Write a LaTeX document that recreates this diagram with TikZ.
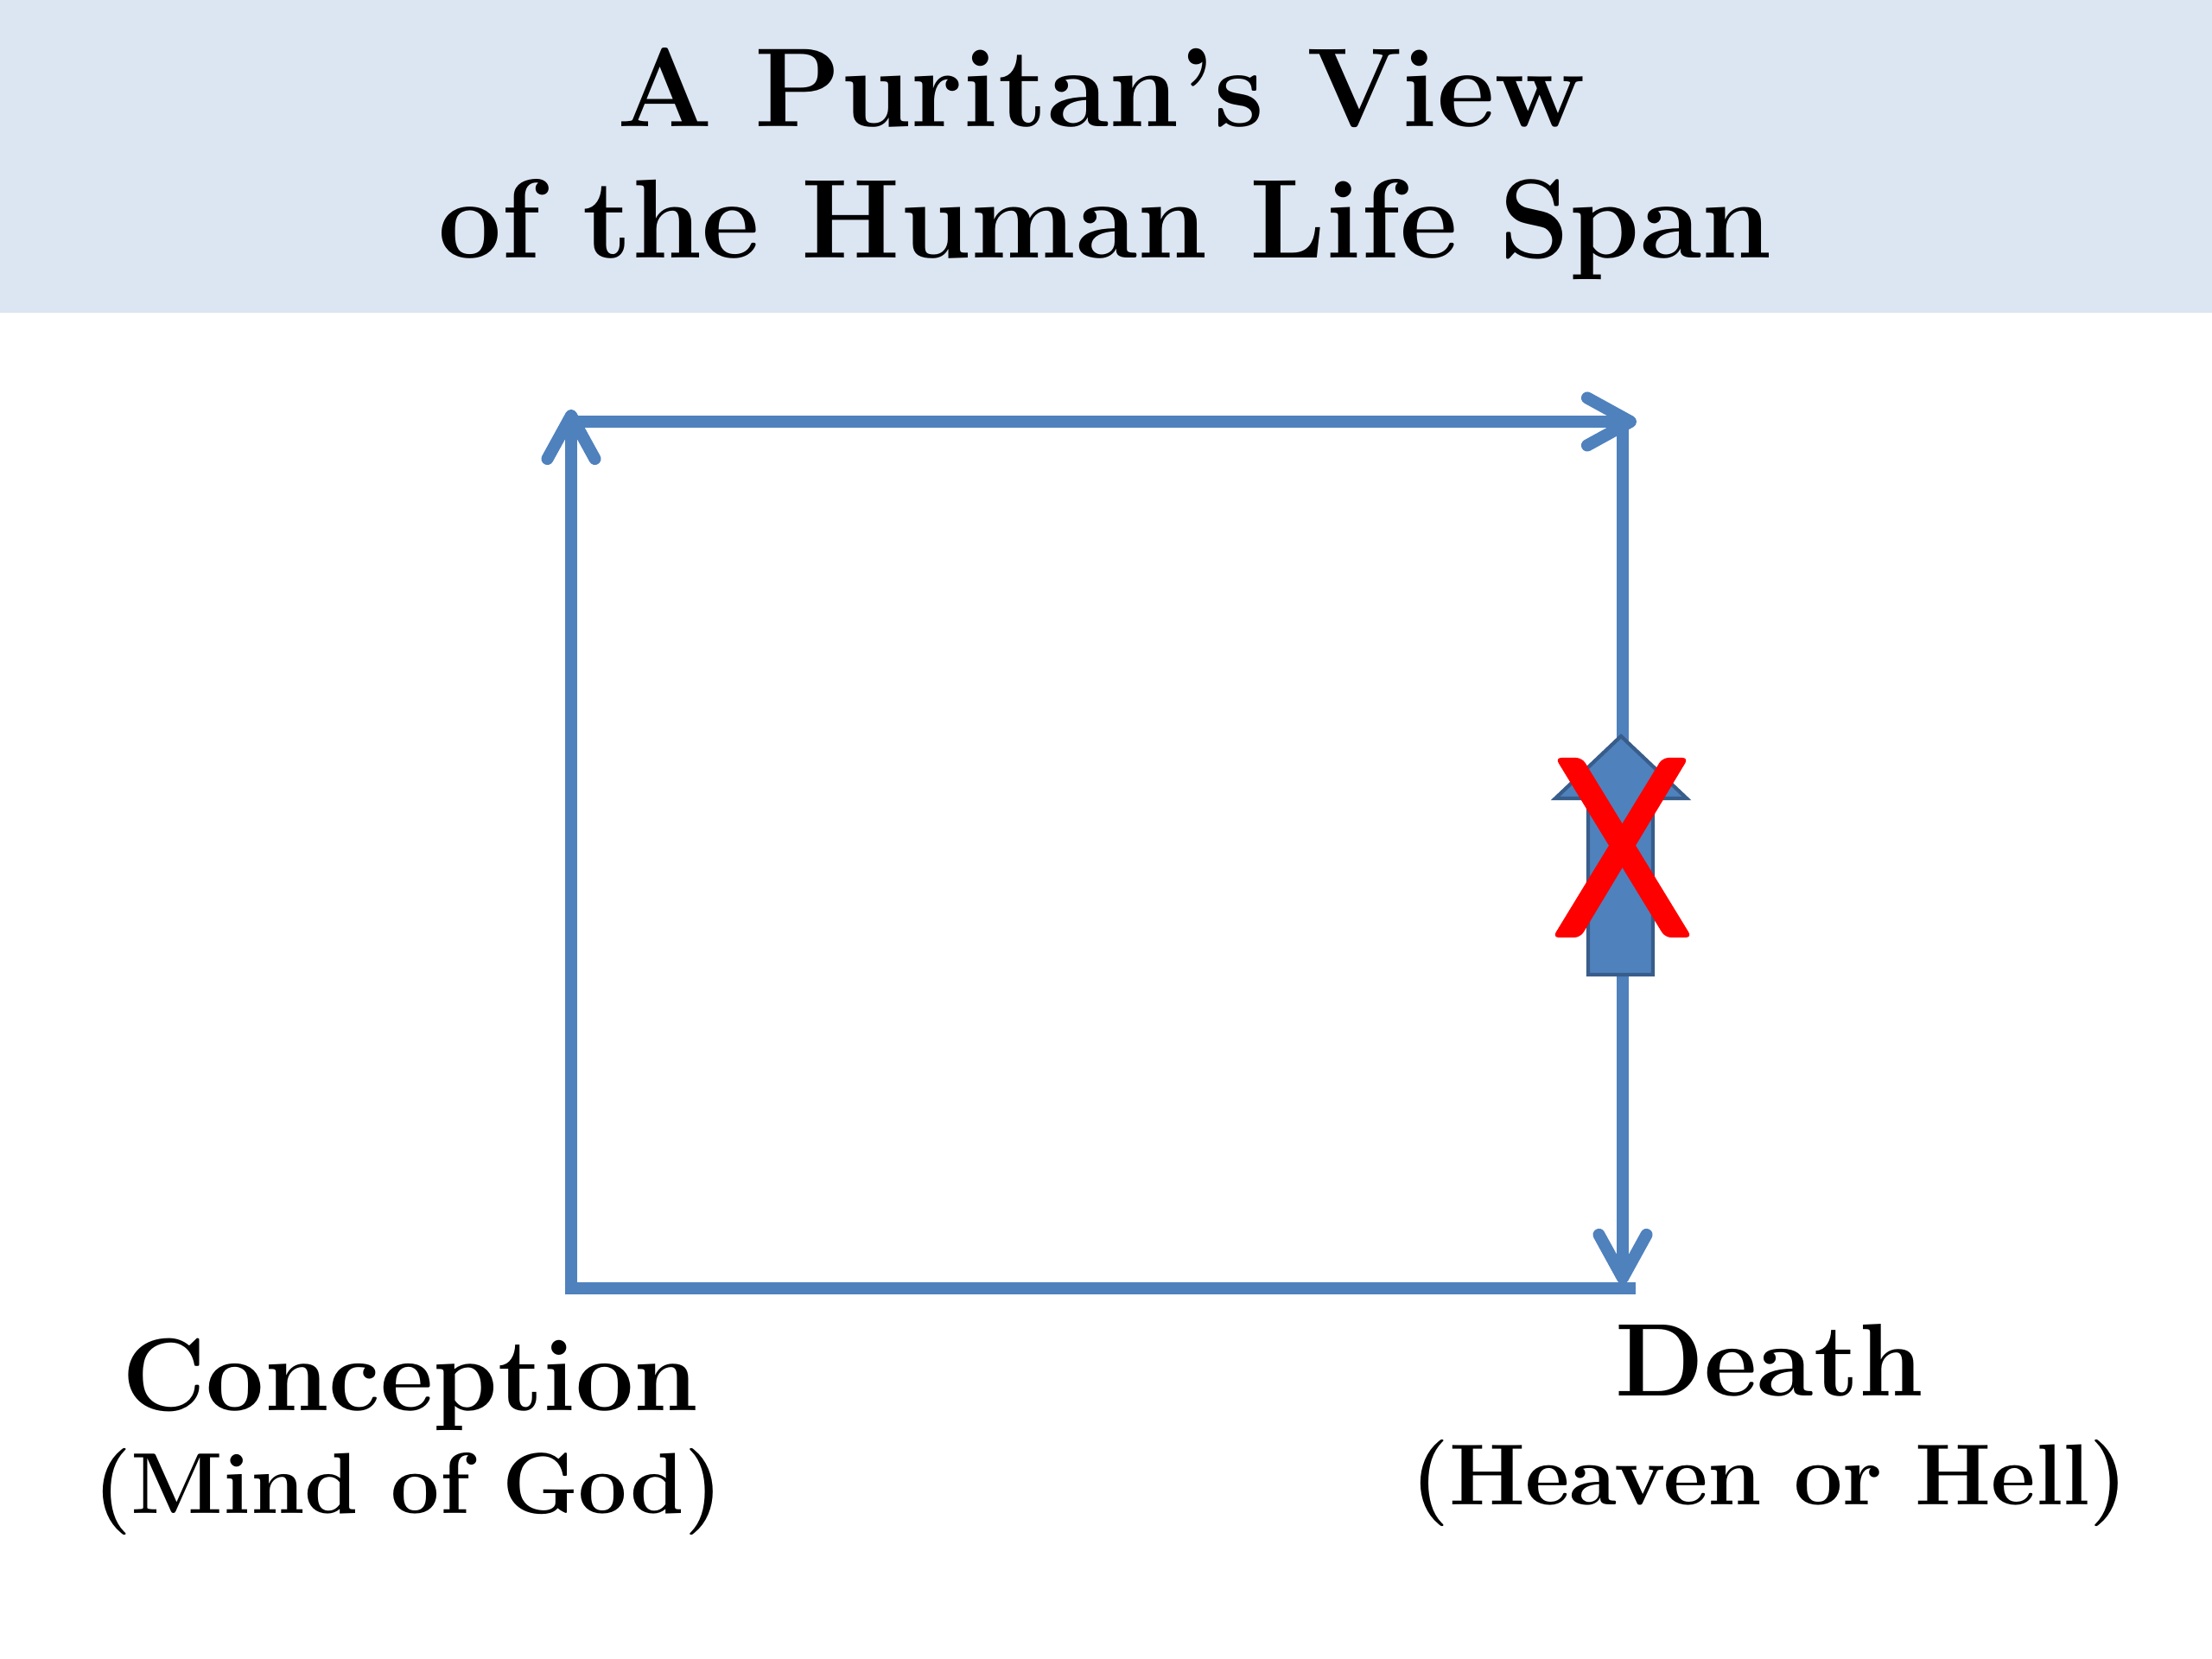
\documentclass[tikz,border=0pt]{standalone}
\usetikzlibrary{arrows.meta}
\definecolor{lineblue}{HTML}{4F81BD}
\definecolor{blockedge}{HTML}{385D8A}
\definecolor{bandblue}{HTML}{DCE6F2}

\begin{document}
\begin{tikzpicture}[line width=4pt,
  span/.style={draw=lineblue,-{Straight Barb[length=.5cm,width=.55cm,line cap=round,line join=round]}},
  rule/.style={draw=lineblue},
  headline/.style={font=\bfseries\fontsize{37}{44}\selectfont,anchor=base},
  bigword/.style={font=\bfseries\fontsize{34}{40}\selectfont,anchor=base},
  smallword/.style={font=\bfseries\fontsize{28.5}{34}\selectfont,anchor=base}]
\useasboundingbox (0,0) rectangle (25.6,19.2);
\fill[bandblue] (0,15.58) rectangle (25.6,19.2);
\coordinate (LB) at (6.61,4.22); \coordinate (LT) at (6.61,14.46); \coordinate (TL) at (6.61,14.32);
\coordinate (TR) at (18.94,14.32); \coordinate (RT) at (18.78,14.32); \coordinate (RB) at (18.78,4.34);
\coordinate (BL) at (6.61,4.29); \coordinate (BR) at (18.93,4.29);
\draw[rule] (BL)--(BR); \draw[span] (LB)--(LT); \draw[span] (TL)--(TR); \draw[span] (RT)--(RB);
% block arrow, crossed out
\draw[fill=lineblue,draw=blockedge,line width=1.2pt,line join=miter] (18.38,7.92)--(18.38,9.96)--(18.00,9.96)--(18.76,10.68)--(19.52,9.96)--(19.13,9.96)--(19.13,7.92)--cycle;
\fill[red,rounded corners=2pt] (18.00,10.43)--(18.31,10.43)--(19.58,8.35)--(19.27,8.35)--cycle;
\fill[red,rounded corners=2pt] (19.24,10.43)--(19.54,10.43)--(18.29,8.35)--(17.97,8.35)--cycle;
\node[headline] (head1) at (12.75,17.73) {A Puritan's View};
\node[headline] (head2) at (12.79,16.21) {of the Human Life Span};
\node[bigword] (conc) at (4.75,2.87) {Conception};
\node[smallword] (mind) at (4.72,1.68) {(Mind of God)};
\node[bigword] (death) at (20.48,3.04) {Death};
\node[smallword] (fate) at (20.48,1.78) {(Heaven or Hell)};
\end{tikzpicture}
\end{document}
